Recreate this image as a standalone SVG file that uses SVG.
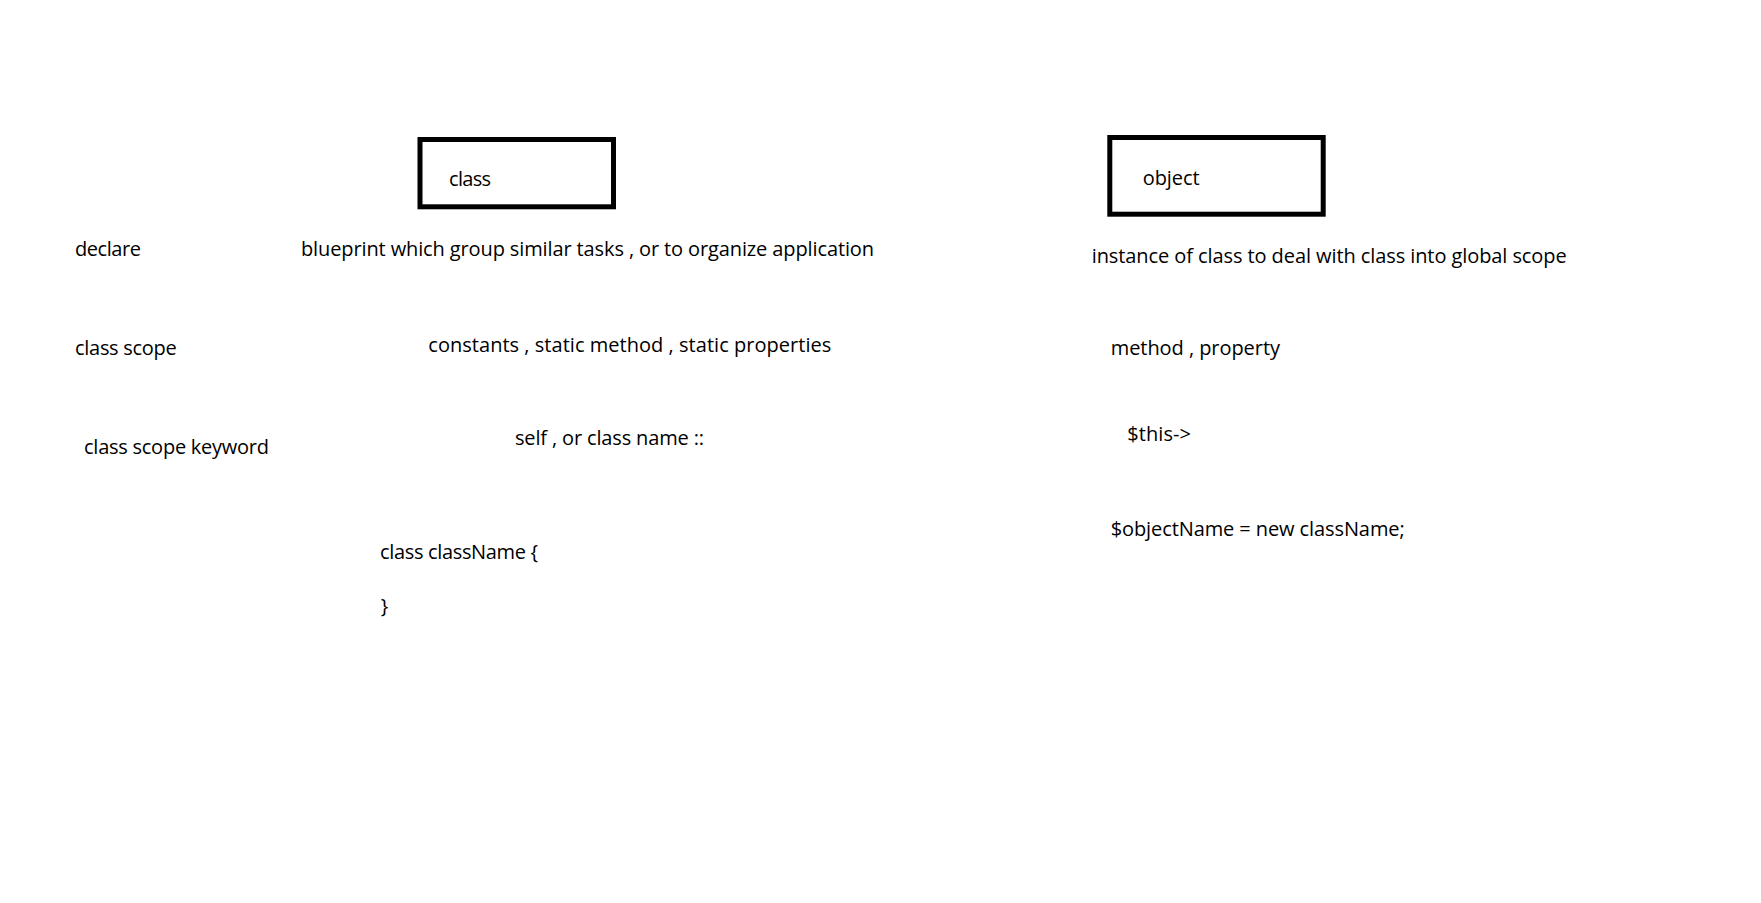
<svg xmlns="http://www.w3.org/2000/svg" width="1761" height="903" viewBox="0 0 1761 903">
<style>
text{font-family:"Open Sans","Noto Sans","Liberation Sans",sans-serif;font-size:20px;fill:#000}
.box{fill:#fff;stroke:#000;stroke-width:5}
</style>
<rect x="0" y="0" width="1761" height="903" fill="#fff"/>
<g id="connectors"/>
<g id="node-class">
<rect class="box" x="420" y="139.5" width="193.5" height="67.3"/>
<text x="449" y="185.5" textLength="42">class</text>
</g>
<g id="node-object">
<rect class="box" x="1109.8" y="137.5" width="213.4" height="76.7"/>
<text x="1142.7" y="184.5" textLength="57">object</text>
</g>
<g id="label-declare"><text x="75" y="255.5" textLength="66">declare</text></g>
<g id="label-blueprint"><text x="301" y="256" textLength="573">blueprint which group similar tasks , or to organize application</text></g>
<g id="label-instance"><text x="1091.7" y="262.8" textLength="475">instance of class to deal with class into global scope</text></g>
<g id="label-class-scope"><text x="75" y="354.8" textLength="101.7">class scope</text></g>
<g id="label-constants"><text x="428.3" y="352.2" textLength="403">constants , static method , static properties</text></g>
<g id="label-method"><text x="1110.7" y="354.8" textLength="169.3">method , property</text></g>
<g id="label-class-scope-keyword"><text x="84" y="454" textLength="185">class scope keyword</text></g>
<g id="label-self"><text x="515" y="445" textLength="189">self , or class name ::</text></g>
<g id="label-this"><text x="1127.3" y="440.5" textLength="63.7">$this-&gt;</text></g>
<g id="label-new"><text x="1110.7" y="535.5" textLength="294">$objectName = new className;</text></g>
<g id="label-classdef">
<text x="380" y="558.8" textLength="158">class className {</text>
<text x="380.7" y="612.5">}</text>
</g>
</svg>
